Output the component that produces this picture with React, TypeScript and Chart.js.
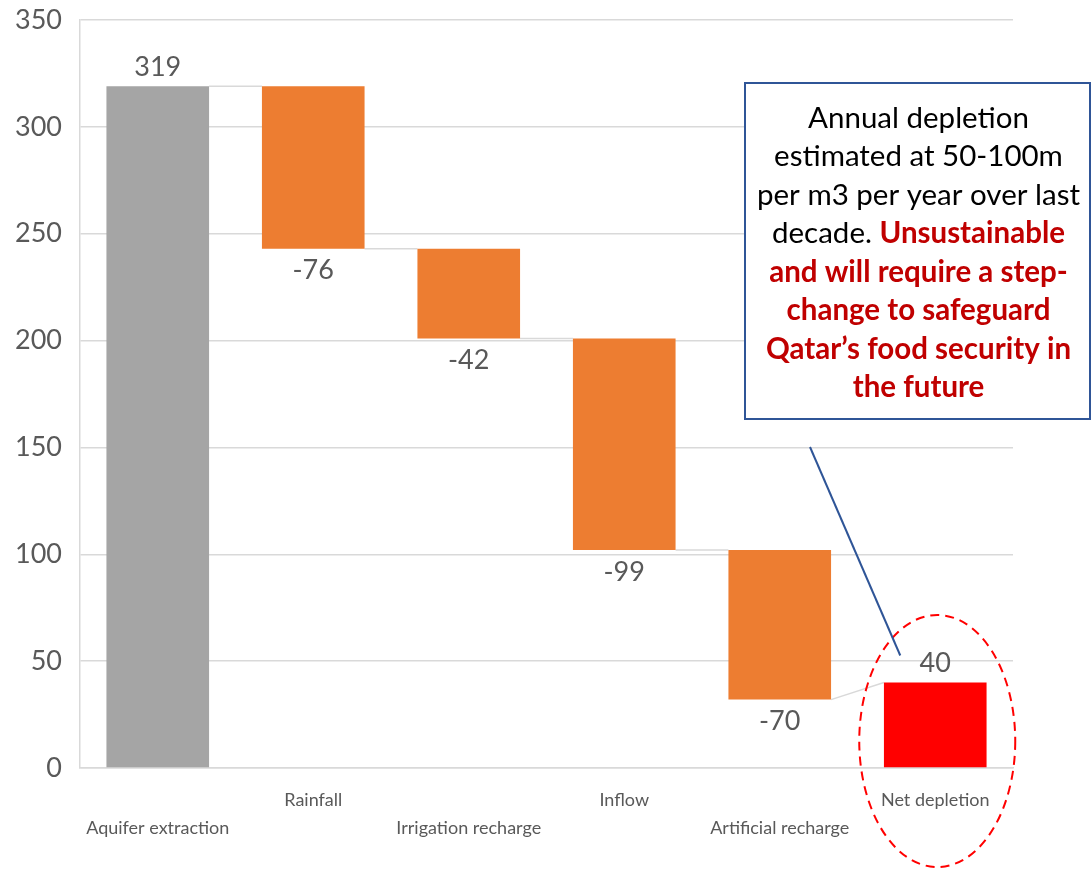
import React, { useEffect, useRef } from "react";
import { Chart, registerables } from "chart.js";

Chart.register(...registerables);

const categories = [
  "Aquifer extraction",
  "Rainfall",
  "Irrigation recharge",
  "Inflow",
  "Artificial recharge",
  "Net depletion",
];
const changes = [319, -76, -42, -99, -70, 40];
const isTotal = [true, false, false, false, false, true];
const barColors = ["#A5A5A5", "#ED7D31", "#ED7D31", "#ED7D31", "#ED7D31", "#FF0000"];
const yMin = 0;
const yMax = 350;
const yStep = 50;

const noteLines: { text: string; red: boolean }[][] = [
  [{ text: "Annual depletion", red: false }],
  [{ text: "estimated at 50-100m", red: false }],
  [{ text: "per m3 per year over last", red: false }],
  [
    { text: "decade. ", red: false },
    { text: "Unsustainable", red: true },
  ],
  [{ text: "and will require a step-", red: true }],
  [{ text: "change to safeguard", red: true }],
  [{ text: "Qatar\u2019s food security in", red: true }],
  [{ text: "the future", red: true }],
];

// waterfall geometry from the values
const starts: number[] = [];
const ends: number[] = [];
const ranges: [number, number][] = [];
{
  let running = 0;
  changes.forEach((c, i) => {
    if (isTotal[i]) {
      starts.push(c);
      ends.push(c);
      running = c;
      ranges.push([0, c]);
    } else {
      const s = running;
      running += c;
      starts.push(s);
      ends.push(running);
      ranges.push([Math.min(s, running), Math.max(s, running)]);
    }
  });
}

const FONT = "Lato, 'Open Sans', sans-serif";
const NOTE_SIZE = 29.5;

const waterfallPlugin = {
  id: "waterfallExtras",
  beforeDatasetsDraw(chart: any) {
    const { ctx } = chart;
    const meta = chart.getDatasetMeta(0);
    const y = chart.scales.y;
    ctx.save();
    ctx.strokeStyle = "#D9D9D9";
    ctx.lineWidth = 1.5;
    for (let i = 0; i < categories.length - 1; i++) {
      const a = meta.data[i];
      const b = meta.data[i + 1];
      ctx.beginPath();
      ctx.moveTo(a.x + a.width / 2, y.getPixelForValue(ends[i]));
      ctx.lineTo(b.x - b.width / 2, y.getPixelForValue(starts[i + 1]));
      ctx.stroke();
    }
    ctx.restore();
  },
  afterDatasetsDraw(chart: any) {
    const { ctx } = chart;
    const meta = chart.getDatasetMeta(0);
    const y = chart.scales.y;
    ctx.save();
    ctx.font = `27px ${FONT}`;
    ctx.fillStyle = "#595959";
    ctx.textAlign = "center";
    ctx.textBaseline = "middle";
    changes.forEach((c, i) => {
      const el = meta.data[i];
      const [lo, hi] = ranges[i];
      if (c >= 0) {
        ctx.fillText(String(c), el.x, y.getPixelForValue(hi) - 19);
      } else {
        ctx.fillText(String(c), el.x, y.getPixelForValue(lo) + 22);
      }
    });
    ctx.restore();
  },
  afterDraw(chart: any) {
    const { ctx } = chart;
    const meta = chart.getDatasetMeta(0);
    const y = chart.scales.y;
    const last = meta.data[categories.length - 1];
    const netTop = y.getPixelForValue(ranges[categories.length - 1][1]);
    ctx.save();
    // ellipse
    ctx.strokeStyle = "#FF0000";
    ctx.lineWidth = 2;
    ctx.setLineDash([9, 6]);
    ctx.beginPath();
    ctx.ellipse(last.x + 2, y.getPixelForValue(0) - 27, 78, 126, 0, 0, Math.PI * 2);
    ctx.stroke();
    ctx.setLineDash([]);
    // callout line
    ctx.strokeStyle = "#2F5597";
    ctx.lineWidth = 2;
    ctx.beginPath();
    ctx.moveTo(810, 447);
    ctx.lineTo(last.x - 35, netTop - 27);
    ctx.stroke();
    // box
    const bx = 745, by = 83, bw = 345, bh = 336;
    ctx.fillStyle = "#FFFFFF";
    ctx.fillRect(bx, by, bw, bh);
    ctx.strokeStyle = "#2F5597";
    ctx.lineWidth = 2;
    ctx.strokeRect(bx, by, bw, bh);
    // text
    const cx = bx + bw / 2 + 1;
    ctx.textBaseline = "middle";
    ctx.textAlign = "left";
    noteLines.forEach((line, li) => {
      const ly = 118 + li * 38.5;
      let total = 0;
      const widths = line.map((seg) => {
        ctx.font = seg.red ? `bold ${NOTE_SIZE}px ${FONT}` : `${NOTE_SIZE}px ${FONT}`;
        const w = ctx.measureText(seg.text).width;
        total += w;
        return w;
      });
      let x = cx - total / 2;
      line.forEach((seg, si) => {
        ctx.font = seg.red ? `bold ${NOTE_SIZE}px ${FONT}` : `${NOTE_SIZE}px ${FONT}`;
        ctx.fillStyle = seg.red ? "#C00000" : "#000000";
        ctx.fillText(seg.text, x, ly);
        x += widths[si];
      });
    });
    ctx.restore();
  },
};

export default function App() {
  const canvasRef = useRef<HTMLCanvasElement | null>(null);

  useEffect(() => {
    if (!canvasRef.current) return;
    const chart = new Chart(canvasRef.current, {
      type: "bar",
      data: {
        labels: categories,
        datasets: [
          {
            data: ranges as any,
            backgroundColor: barColors,
            borderWidth: 0,
            borderSkipped: false,
            barPercentage: 0.66,
            categoryPercentage: 1,
          },
        ],
      },
      options: {
        animation: false,
        responsive: true,
        maintainAspectRatio: false,
        layout: { padding: { top: 20, right: 79, bottom: 0, left: 0 } },
        plugins: {
          legend: { display: false },
          tooltip: { enabled: false },
        },
        scales: {
          x: {
            grid: { display: false, drawTicks: false },
            border: { display: true, color: "#D9D9D9", width: 1.5 },
            ticks: {
              autoSkip: false,
              maxRotation: 0,
              padding: 18,
              color: "#595959",
              font: { family: FONT, size: 18, lineHeight: 1.55 },
              callback: (_v: any, i: number) =>
                i % 2 === 0 ? ["", categories[i]] : categories[i],
            },
            afterFit: (s: any) => {
              s.height = 102;
              s.paddingLeft = 0;
              s.paddingRight = 0;
            },
          },
          y: {
            min: yMin,
            max: yMax,
            grid: { color: "#D9D9D9", lineWidth: 1.5, drawTicks: false },
            border: { display: true, color: "#D9D9D9", width: 1.5 },
            ticks: {
              stepSize: yStep,
              padding: 18,
              color: "#595959",
              font: { family: FONT, size: 27 },
            },
            afterFit: (s: any) => {
              s.width = 80;
              s.paddingTop = 0;
              s.paddingBottom = 0;
            },
          },
        },
      },
      plugins: [waterfallPlugin],
    });
    return () => chart.destroy();
  }, []);

  return (
    <div style={{ position: "fixed", left: 0, top: 0, width: 1092, height: 870, background: "#fff" }}>
      <canvas ref={canvasRef} />
    </div>
  );
}
